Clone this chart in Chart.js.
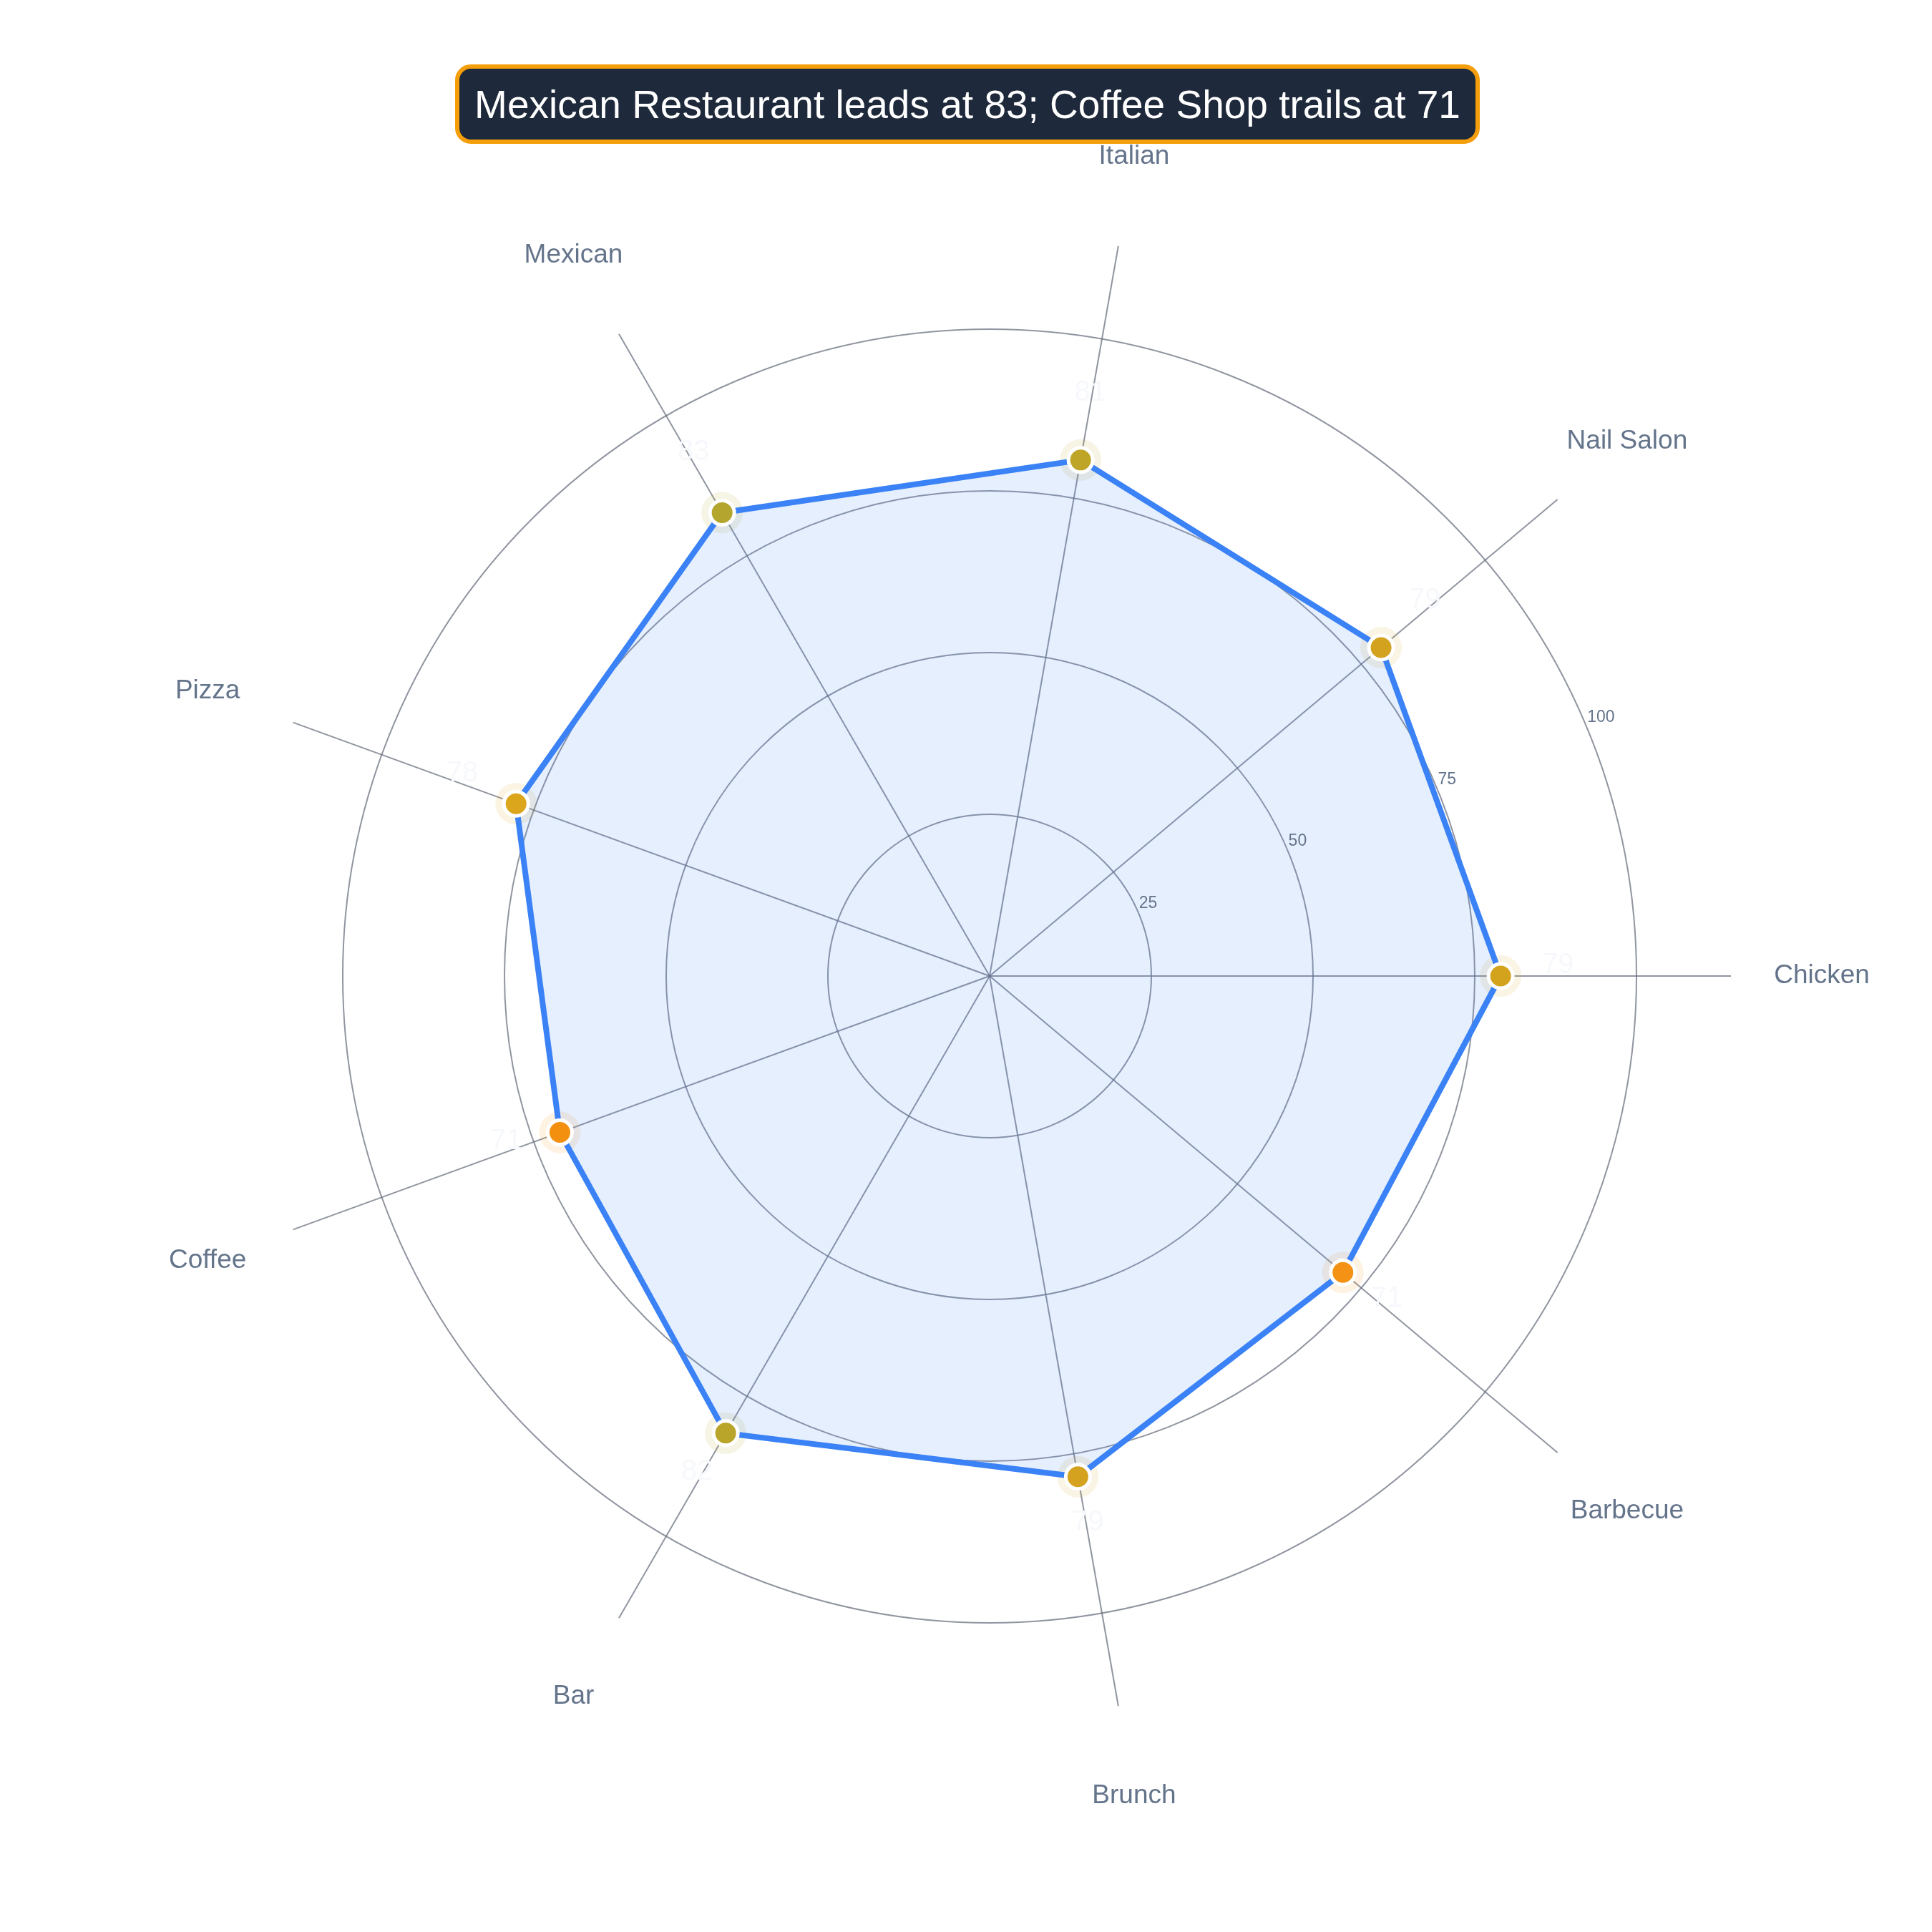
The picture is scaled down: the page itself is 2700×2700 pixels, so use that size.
<!DOCTYPE html>
<html>
<head>
<meta charset="utf-8">
<title>Restaurant scores</title>
<script src="https://cdn.jsdelivr.net/npm/chart.js@4.4.1/dist/chart.umd.min.js"></script>
<style>
  html, body { margin: 0; padding: 0; background: #ffffff; }
  #wrap { position: relative; width: 2700px; height: 2700px; }
  #chart { position: absolute; left: 0; top: 0; }
  #title {
    position: absolute; left: 636px; top: 90px; width: 1432px; height: 111px;
    box-sizing: border-box; border: 6px solid #F59E0B; border-radius: 22px;
    background: #1E293B; color: #ffffff;
    font-family: "Liberation Sans", Arial, Helvetica, sans-serif; font-size: 55px;
    display: flex; align-items: center; justify-content: center;
  }
</style>
</head>
<body>
<div id="wrap">
  <canvas id="chart" width="2700" height="2700"></canvas>
  <div id="title">Mexican Restaurant leads at 83; Coffee Shop trails at 71</div>
</div>
<script>
// categories go clockwise from the east spoke
var categories = ["Chicken", "Barbecue", "Brunch", "Bar", "Coffee", "Pizza", "Mexican", "Italian", "Nail Salon"]
var scores = [79, 71.3, 78.6, 81.6, 70.7, 77.9, 82.7, 81, 79]
var radialTicks = [25, 50, 75, 100]

var pointColors = ["#D4A31E", "#F39214", "#D4A21E", "#B8A52A", "#F3900F", "#DBA51C", "#B3A52D", "#BEA427", "#D3A21F"]

var gridColor = "rgba(107,114,128,0.75)"
var fontFamily = "'Liberation Sans', Arial, Helvetica, sans-serif"

function haloColors(colors) {
    return colors.map(function(c){ return c + "1F" })
}

var labelsPlugin = {
    id: "labelsPlugin",
    afterDatasetsDraw: function(chart) {
        var scale = chart.scales.r
        var ctx = chart.ctx
        ctx.save()

        // radial tick labels along the 22.5 degree line
        var a = 22.5 * Math.PI / 180
        ctx.font = "23px " + fontFamily
        ctx.fillStyle = "#64748B"
        ctx.textAlign = "left"
        ctx.textBaseline = "middle"
        radialTicks.forEach(function(v){
            var d = scale.getDistanceFromCenterForValue(v)
            ctx.fillText(String(v), scale.xCenter + d * Math.cos(a), scale.yCenter - d * Math.sin(a) - 15)
        })

        // category names
        ctx.font = "37px " + fontFamily
        ctx.textAlign = "center"
        categories.forEach(function(name, i){
            var p = scale.getPointPosition(i, scale.drawingArea + 127)
            ctx.fillText(name, p.x, p.y)
        })

        // value labels just outside each point
        ctx.font = "40px " + fontFamily
        ctx.fillStyle = "#F6F8FB"
        scores.forEach(function(v, i){
            var p = scale.getPointPosition(i, scale.getDistanceFromCenterForValue(v) + 80)
            ctx.fillText(String(Math.round(v)), p.x, p.y - 15)
        })
        ctx.restore()
    }
}

new Chart(document.getElementById("chart"), {
    type: "radar",
    data: {
        labels: categories,
        datasets: [{
            label: "Score",
            data: scores,
            order: 0,
            borderColor: "#3B82F6",
            borderWidth: 8,
            backgroundColor: "rgba(59,130,246,0.13)",
            fill: true,
            tension: 0,
            pointRadius: 17,
            pointBorderWidth: 5,
            pointBorderColor: "#ffffff",
            pointBackgroundColor: pointColors
        }, {
            label: "halo",
            data: scores,
            order: 1,
            showLine: false,
            fill: false,
            borderWidth: 0,
            pointRadius: 29,
            pointBorderWidth: 0,
            pointBackgroundColor: haloColors(pointColors)
        }]
    },
    options: {
        responsive: false,
        devicePixelRatio: 1,
        animation: false,
        layout: { padding: { left: 347, right: 281, top: 328, bottom: 300 } },
        plugins: {
            legend: { display: false },
            tooltip: { enabled: false }
        },
        scales: {
            r: {
                min: 0,
                max: 114.6,
                startAngle: 90,
                ticks: { display: false, stepSize: 25 },
                grid: {
                    circular: true,
                    lineWidth: 2,
                    color: function(c){ return c.tick && c.tick.value > 100 ? "rgba(0,0,0,0)" : gridColor }
                },
                angleLines: { color: gridColor, lineWidth: 2 },
                pointLabels: { display: false }
            }
        }
    },
    plugins: [labelsPlugin]
})
</script>
</body>
</html>
